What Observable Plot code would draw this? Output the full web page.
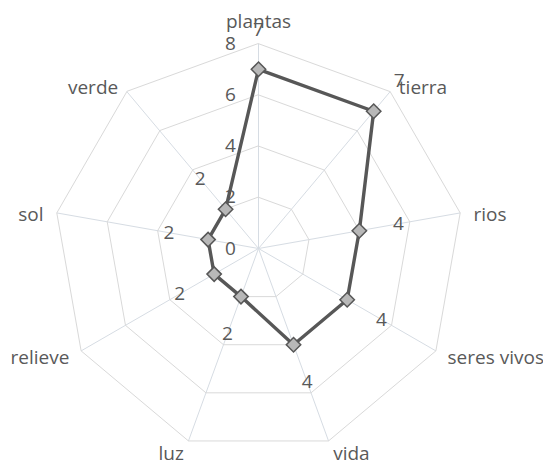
<!DOCTYPE html>
<html>
<head>
<meta charset="utf-8">
<script src="https://cdn.jsdelivr.net/npm/d3@7"></script>
<script src="https://cdn.jsdelivr.net/npm/@observablehq/plot@0.6"></script>
<style>
  html, body { margin: 0; padding: 0; background: #fff; }
  #chart svg { display: block; }
</style>
</head>
<body>
<div id="chart"></div>
<script>
const categories = ["plantas", "tierra", "rios", "seres vivos", "vida", "luz", "relieve", "sol", "verde"];
const values = [7, 7, 4, 4, 4, 2, 2, 2, 2];
const ticks = [0, 2, 4, 6, 8];
const rMax = 8;

const W = 543, H = 466;
const cx = 258, cy = 248;        // centre in pixels
const U = 25.6;                  // pixels per unit

const n = categories.length;
const ang = i => i * 2 * Math.PI / n;
const px = (r, i) => r * Math.sin(ang(i));
const py = (r, i) => r * Math.cos(ang(i));

// grid rings
const rings = [];
ticks.filter(t => t > 0).forEach(t => {
  categories.forEach((c, i) => rings.push({ level: t, x: px(t, i), y: py(t, i) }));
});
// spokes
const spokes = categories.map((c, i) => ({ x1: 0, y1: 0, x2: px(rMax, i), y2: py(rMax, i) }));
// series points
const pts = categories.map((c, i) => ({ cat: c, v: values[i], x: px(values[i], i), y: py(values[i], i) }));
// data labels (placed radially outward from the markers)
const dlabels = categories.map((c, i) => ({ v: values[i], x: px(values[i] + 1.55, i), y: py(values[i] + 1.55, i) }));
// category labels
const labelR = rMax + 13.5 / U;
const clabels = categories.map((c, i) => {
  const s = Math.sin(ang(i)), co = Math.cos(ang(i));
  // small vertical nudge (in pixels) depending on where the label sits
  const nudge = i === 0 ? -8 : (co > 0.5 ? 7 : (co > 0 ? 4 : 0));
  return {
    name: c,
    x: px(labelR, i),
    y: py(labelR, i) - nudge / U,
    anchor: Math.abs(s) < 0.05 ? "middle" : (s > 0 ? "start" : "end")
  };
});
// tick labels along the first axis, offset to the left
const tlabels = ticks.map(t => ({ t, x: -28 / U, y: t }));

const textColor = "#595959";
const font = "'Open Sans', sans-serif";
const fs = 19;

const chart = Plot.plot({
  width: W,
  height: H,
  margin: 0,
  x: { domain: [-cx / U, (W - cx) / U], range: [0, W], axis: null },
  y: { domain: [-(H - cy) / U, cy / U], range: [H, 0], axis: null },
  style: { fontFamily: font, background: "#fff" },
  marks: [
    Plot.link(spokes, { x1: "x1", y1: "y1", x2: "x2", y2: "y2", stroke: "#d6dce3", strokeWidth: 1 }),
    Plot.line(rings, { x: "x", y: "y", z: "level", curve: "linear-closed", stroke: "#d9d9d9", strokeWidth: 1 }),
    Plot.text(tlabels, { x: "x", y: "y", text: d => String(d.t), fill: textColor, fontSize: fs, textAnchor: "middle" }),
    Plot.line(pts, { x: "x", y: "y", curve: "linear-closed", stroke: "#575757", strokeWidth: 3.4 }),
    Plot.dot(pts, { x: "x", y: "y", symbol: "diamond2", r: 6.5, fill: "#b8b8b8", stroke: "#575757", strokeWidth: 1.5 }),
    Plot.text(dlabels, { x: "x", y: "y", text: d => String(d.v), fill: textColor, fontSize: fs, textAnchor: "middle" }),
    Plot.text(clabels.filter(d => d.anchor === "start"), { x: "x", y: "y", text: "name", textAnchor: "start", fill: textColor, fontSize: fs }),
    Plot.text(clabels.filter(d => d.anchor === "end"), { x: "x", y: "y", text: "name", textAnchor: "end", fill: textColor, fontSize: fs }),
    Plot.text(clabels.filter(d => d.anchor === "middle"), { x: "x", y: "y", text: "name", textAnchor: "middle", fill: textColor, fontSize: fs })
  ]
});

document.getElementById("chart").appendChild(chart);
</script>
</body>
</html>
